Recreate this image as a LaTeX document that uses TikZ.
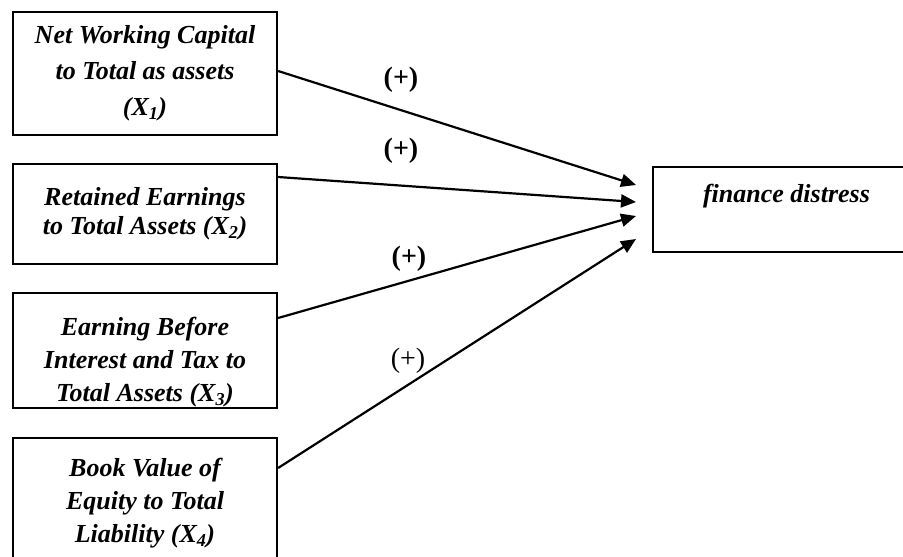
\documentclass[tikz,border=0pt]{standalone}
\usepackage{fontspec}
\setmainfont{Liberation Serif}
\usetikzlibrary{arrows.meta}

\tikzset{
  factor/.style={draw, line width=2.2pt, minimum width=264pt, inner sep=0pt, align=center,
    font=\fontsize{26}{33}\selectfont\bfseries\itshape},
  sign/.style={font=\fontsize{28}{30}\selectfont\bfseries},
  link/.style={line width=2.2pt, -{Triangle[length=15pt,width=13pt]}},
}

\begin{document}
\begin{tikzpicture}[x=1pt,y=-1pt]
    \clip (0,0) rectangle (903,557);
    % independent variables
    \node[factor, minimum height=123pt, font=\fontsize{26}{36}\selectfont\bfseries\itshape] (x1) at (145,73.5) {Net Working Capital\\to Total as assets\\(X\textsubscript{1})};
    \node[factor, minimum height=100pt, font=\fontsize{26}{29}\selectfont\bfseries\itshape] (x2) at (145,214) {Retained Earnings\\to Total Assets (X\textsubscript{2})};
    \node[factor, minimum height=115pt] (x3) at (145,350.5) {};
    \node[factor, draw=none] (x3text) at (145,362) {Earning Before\\Interest and Tax to\\Total Assets (X\textsubscript{3})};
    \node[factor, minimum height=130pt] (x4) at (145,503) {Book Value of\\Equity to Total\\Liability (X\textsubscript{4})};
    % dependent variable
    \node[factor, minimum width=267pt, minimum height=85pt] (fd) at (786.5,209.5) {finance distress\\\mbox{}};
    \coordinate (t1) at (636,185);
    \coordinate (t2) at (636,202);
    \coordinate (t3) at (636,216);
    \coordinate (t4) at (636,239);
    \draw[link] ([yshift=2.5pt]x1.east) -- (t1);
    \draw[link] ([yshift=37pt]x2.east) -- (t2);
    \draw[link] ([yshift=32.5pt]x3.east) -- (t3);
    \draw[link] ([yshift=35pt]x4.east) -- (t4);
    \node[sign] (s1) at (401,80) {(+)};
    \node[sign] (s2) at (401,151) {(+)};
    \node[sign] (s3) at (409,259) {(+)};
    \node[sign, font=\fontsize{28}{30}\selectfont] (s4) at (408,361) {(+)};
\end{tikzpicture}
\end{document}
